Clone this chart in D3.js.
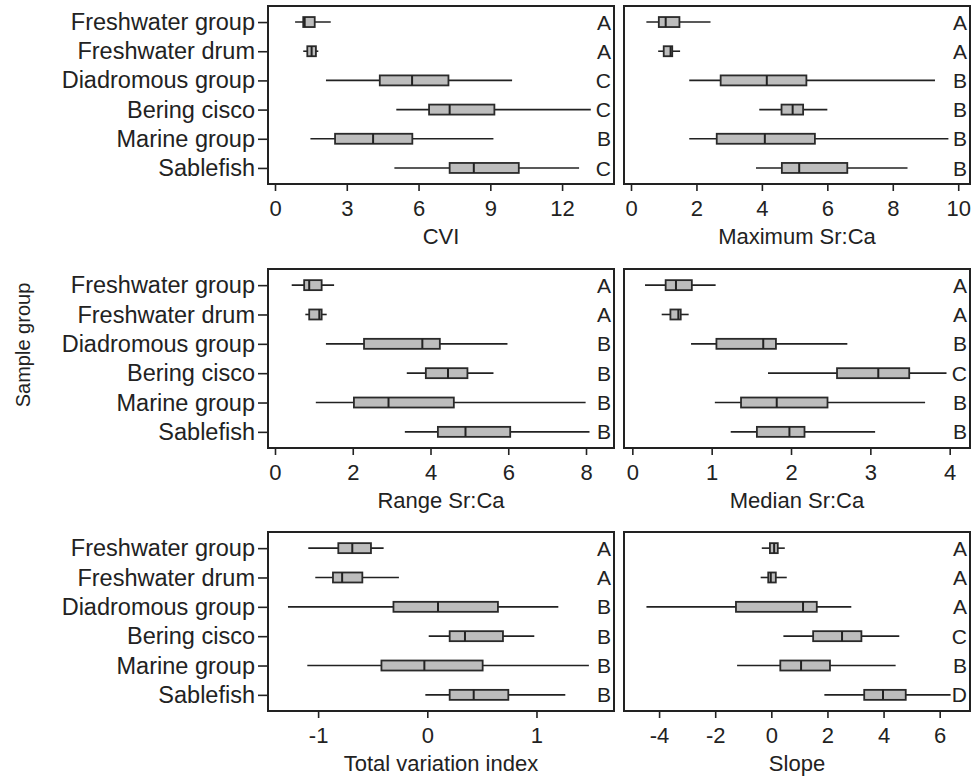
<!DOCTYPE html>
<html>
<head>
<meta charset="utf-8">
<script src="https://cdn.jsdelivr.net/npm/d3@7"></script>
<style>
body { margin: 0; background: #fff; }
text { font-family: "Liberation Sans", Arial, sans-serif; fill: #222; }
</style>
</head>
<body>
<div id="chart-area"></div>
<script>
// sample groups, top to bottom
var groups = ["Freshwater group", "Freshwater drum", "Diadromous group", "Bering cisco", "Marine group", "Sablefish"];

// [min, q1, median, q3, max] for each group
var cviStats = [
    [0.84, 1.18, 1.24, 1.66, 2.33],
    [1.18, 1.35, 1.53, 1.71, 1.81],
    [2.13, 4.38, 5.73, 7.25, 9.91],
    [5.07, 6.44, 7.30, 9.17, 13.2],
    [1.48, 2.51, 4.10, 5.74, 9.13],
    [4.99, 7.30, 8.31, 10.19, 12.71]
];
var cviLetters = ["A", "A", "C", "C", "B", "C"];
var cviTicks = [0, 3, 6, 9, 12];

var maxStats = [
    [0.47, 0.85, 1.06, 1.48, 2.43],
    [0.83, 1.00, 1.21, 1.26, 1.50],
    [1.78, 2.74, 4.15, 5.36, 9.29],
    [3.92, 4.60, 4.94, 5.26, 6.00],
    [1.78, 2.62, 4.09, 5.62, 9.70],
    [3.82, 4.61, 5.14, 6.61, 8.45]
];
var maxLetters = ["A", "A", "B", "B", "B", "B"];
var maxTicks = [0, 2, 4, 6, 8, 10];

var rangeStats = [
    [0.43, 0.75, 0.88, 1.20, 1.52],
    [0.78, 0.88, 1.14, 1.20, 1.33],
    [1.31, 2.29, 3.79, 4.24, 5.98],
    [3.39, 3.88, 4.45, 4.95, 5.62],
    [1.05, 2.03, 2.92, 4.60, 7.99],
    [3.34, 4.19, 4.90, 6.05, 8.09]
];
var rangeLetters = ["A", "A", "B", "B", "B", "B"];
var rangeTicks = [0, 2, 4, 6, 8];

var medianStats = [
    [0.16, 0.42, 0.55, 0.75, 1.05],
    [0.37, 0.48, 0.58, 0.61, 0.71],
    [0.74, 1.06, 1.65, 1.81, 2.71],
    [1.71, 2.58, 3.10, 3.49, 3.96],
    [1.04, 1.37, 1.82, 2.46, 3.69],
    [1.24, 1.57, 1.98, 2.17, 3.06]
];
var medianLetters = ["A", "A", "B", "C", "B", "B"];
var medianTicks = [0, 1, 2, 3, 4];

var tviStats = [
    [-1.09, -0.815, -0.687, -0.516, -0.40],
    [-1.026, -0.864, -0.78, -0.595, -0.26],
    [-1.276, -0.31, 0.098, 0.647, 1.20],
    [0.013, 0.205, 0.345, 0.693, 0.98],
    [-1.099, -0.42, -0.027, 0.507, 1.48],
    [-0.018, 0.205, 0.425, 0.742, 1.264]
];
var tviLetters = ["A", "A", "B", "B", "B", "B"];
var tviTicks = [-1, 0, 1];

var slopeStats = [
    [-0.34, -0.05, 0.10, 0.23, 0.48],
    [-0.38, -0.11, -0.02, 0.16, 0.55],
    [-4.45, -1.26, 1.13, 1.62, 2.85],
    [0.43, 1.49, 2.52, 3.21, 4.56],
    [-1.22, 0.32, 1.06, 2.09, 4.43],
    [1.89, 3.31, 3.98, 4.79, 6.39]
];
var slopeLetters = ["A", "A", "A", "C", "B", "D"];
var slopeTicks = [-4, -2, 0, 2, 4, 6];

var width = 971;
var height = 781;
var cols = [[268, 614], [624, 970]];
var rows = [[6, 184], [269, 448], [532, 711]];

var panels = [
    {stats: cviStats, letters: cviLetters, ticks: cviTicks, title: "CVI", col: 0, row: 0, dom: [-0.293, 14.17]},
    {stats: maxStats, letters: maxLetters, ticks: maxTicks, title: "Maximum Sr:Ca", col: 1, row: 0, dom: [-0.214, 10.36]},
    {stats: rangeStats, letters: rangeLetters, ticks: rangeTicks, title: "Range Sr:Ca", col: 0, row: 1, dom: [-0.18, 8.72]},
    {stats: medianStats, letters: medianLetters, ticks: medianTicks, title: "Median Sr:Ca", col: 1, row: 1, dom: [-0.105, 4.256]},
    {stats: tviStats, letters: tviLetters, ticks: tviTicks, title: "Total variation index", col: 0, row: 2, dom: [-1.459, 1.71]},
    {stats: slopeStats, letters: slopeLetters, ticks: slopeTicks, title: "Slope", col: 1, row: 2, dom: [-5.25, 7.08]}
];

var svg = d3.select("#chart-area")
    .append("svg")
    .attr("width", width)
    .attr("height", height);

panels.forEach(function(p) {
    var x0 = cols[p.col][0], x1 = cols[p.col][1];
    var y0 = rows[p.row][0], y1 = rows[p.row][1];

    var x = d3.scaleLinear().domain(p.dom).range([x0, x1]);
    var y = d3.scalePoint().domain(groups).range([y0, y1]).padding(0.55);

    var g = svg.append("g");

    // x axis, plain hyphen for negatives like the original
    var xAxis = g.append("g")
        .attr("transform", "translate(0," + y1 + ")")
        .call(d3.axisBottom(x).tickValues(p.ticks).tickSize(7).tickPadding(9).tickFormat((d) => String(d)));
    xAxis.select(".domain").remove();
    xAxis.selectAll("line").attr("stroke", "#222").attr("stroke-width", 1.6);
    xAxis.selectAll("text").attr("font-size", "22px").attr("fill", "#222")
        .style("font-family", "'Liberation Sans', Arial, sans-serif");

    g.append("text")
        .attr("x", (x0 + x1) / 2)
        .attr("y", y1 + 60)
        .attr("text-anchor", "middle")
        .attr("font-size", "22px")
        .text(p.title);

    // y axis only on the left column
    if (p.col == 0) {
        var yAxis = g.append("g")
            .attr("transform", "translate(" + x0 + ",0)")
            .call(d3.axisLeft(y).tickSize(10).tickPadding(3));
        yAxis.select(".domain").remove();
        yAxis.selectAll("line").attr("stroke", "#222").attr("stroke-width", 1.6);
        yAxis.selectAll("text").attr("font-size", "23.5px").attr("fill", "#222")
            .style("font-family", "'Liberation Sans', Arial, sans-serif");
    }

    var box = g.selectAll(".box").data(p.stats).enter().append("g")
        .attr("transform", (d, i) => "translate(0," + y(groups[i]) + ")");

    box.append("line")
        .attr("x1", (d) => x(d[0]))
        .attr("x2", (d) => x(d[4]))
        .attr("stroke", "#222")
        .attr("stroke-width", 1.6);

    box.append("rect")
        .attr("x", (d) => x(d[1]))
        .attr("width", (d) => x(d[3]) - x(d[1]))
        .attr("y", -5)
        .attr("height", 10)
        .attr("fill", "#bdbdbd")
        .attr("stroke", "#2a2a2a")
        .attr("stroke-width", 1.8);

    box.append("line")
        .attr("x1", (d) => x(d[2]))
        .attr("x2", (d) => x(d[2]))
        .attr("y1", -5)
        .attr("y2", 5)
        .attr("stroke", "#222")
        .attr("stroke-width", 2);

    g.selectAll(".letter").data(p.letters).enter().append("text")
        .attr("x", x1 - 3)
        .attr("y", (d, i) => y(groups[i]))
        .attr("dy", "0.36em")
        .attr("text-anchor", "end")
        .attr("font-size", "21px")
        .text((d) => d);

    // frame
    g.append("rect")
        .attr("x", x0)
        .attr("y", y0)
        .attr("width", x1 - x0)
        .attr("height", y1 - y0)
        .attr("fill", "none")
        .attr("stroke", "#222")
        .attr("stroke-width", 2);
});

svg.append("text")
    .attr("transform", "translate(30,345) rotate(-90)")
    .attr("text-anchor", "middle")
    .attr("font-size", "20px")
    .text("Sample group");
</script>
</body>
</html>
